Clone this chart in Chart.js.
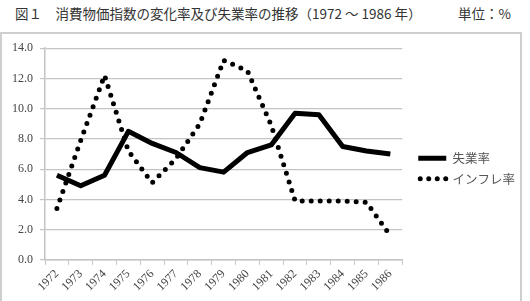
<!DOCTYPE html>
<html>
<head>
<meta charset="utf-8">
<script src="https://cdn.jsdelivr.net/npm/chart.js@4.4.1/dist/chart.umd.min.js"></script>
<style>
  body { margin: 0; background: #fff; width: 530px; height: 301px; overflow: hidden; position: relative; }
  .title { position: absolute; top: 3px; font-family: "Noto Sans CJK JP", "Noto Sans", sans-serif; font-size: 13.5px; color: #333; white-space: nowrap; }
  #frame { position: absolute; left: 0; top: 32px; width: 518px; height: 280px; border: 2px solid #cfcfcf; }
  #wrap { position: absolute; left: 0; top: 34px; width: 525px; height: 267px; }
</style>
</head>
<body>
<div class="title" style="left:15px">図１　消費物価指数の変化率及び失業率の推移（1972 ～ 1986 年）</div>
<div class="title" style="left:458px">単位：%</div>
<div id="frame"></div>
<div id="wrap"><canvas id="chart"></canvas></div>
<script>
// years on the x axis
const years = ['1972', '1973', '1974', '1975', '1976', '1977', '1978', '1979',
               '1980', '1981', '1982', '1983', '1984', '1985', '1986'];

// unemployment rate (%)
const unemployment = [5.6, 4.9, 5.6, 8.5, 7.7, 7.1, 6.1, 5.8, 7.1, 7.6, 9.7, 9.6, 7.5, 7.2, 7.0];

// inflation rate (%)
const inflation = [3.4, 7.9, 12.2, 7.2, 5.1, 6.7, 9.0, 13.2, 12.5, 8.9, 3.9, 3.9, 3.9, 3.8, 1.6];

// y axis ticks
const yMin = 0;
const yMax = 14;
const yStep = 2;

const gridColor = '#c4c4c4';
const tickFont = { family: '"Liberation Serif", "DejaVu Serif", serif', size: 12 };

// legend samples: the point style 'line' strokes one straight segment,
// so copy each dataset's stroke settings onto its legend item
function legendLabels(chart) {
    const items = Chart.defaults.plugins.legend.labels.generateLabels(chart);
    items.forEach(item => {
        const ds = chart.data.datasets[item.datasetIndex];
        item.lineWidth = ds.borderWidth;
        item.lineCap = ds.borderCapStyle;
        item.strokeStyle = ds.borderColor;
        item.fillStyle = ds.borderColor;
        item.lineDash = ds.borderDash ? [0, 8.5] : [];
        item.lineDashOffset = -2;
        item.fontColor = '#555';
    });
    return items;
}

new Chart(document.getElementById('chart'), {
    type: 'line',
    data: {
        labels: years,
        datasets: [
            {
                label: '失業率',
                data: unemployment,
                borderColor: '#000',
                backgroundColor: '#000',
                borderWidth: 5,
                borderJoinStyle: 'round',
                borderCapStyle: 'butt',
                pointRadius: 0,
                tension: 0
            },
            {
                label: 'インフレ率',
                data: inflation,
                borderColor: '#000',
                backgroundColor: '#000',
                borderWidth: 5,
                borderDash: [0, 9],
                borderCapStyle: 'round',
                pointRadius: 0,
                tension: 0
            }
        ]
    },
    options: {
        responsive: true,
        maintainAspectRatio: false,
        animation: false,
        layout: { padding: { left: 5, top: 7, right: 0, bottom: 5 } },
        plugins: {
            tooltip: { enabled: false },
            legend: {
                position: 'right',
                maxWidth: 200,
                labels: {
                    usePointStyle: true,
                    pointStyle: 'line',
                    pointStyleWidth: 28,
                    boxHeight: 12,
                    padding: 8,
                    color: '#555',
                    font: { family: '"Noto Sans CJK JP", sans-serif', size: 12.5 },
                    generateLabels: legendLabels
                }
            }
        },
        scales: {
            x: {
                offset: true,
                grid: { offset: true, drawOnChartArea: false, drawTicks: true, tickLength: 5, color: gridColor },
                border: { color: gridColor, width: 1.5 },
                ticks: { minRotation: 45, maxRotation: 45, padding: 2, color: '#444', font: tickFont, autoSkip: false }
            },
            y: {
                min: yMin,
                max: yMax,
                grid: { color: gridColor, lineWidth: 1.2, tickLength: 5 },
                border: { color: gridColor, width: 1.5 },
                ticks: {
                    stepSize: yStep,
                    padding: 7,
                    color: '#444',
                    font: tickFont,
                    callback: v => v.toFixed(1)
                }
            },
            // empty right axis: only keeps a gap between the plot and the legend
            gap: {
                position: 'right',
                display: true,
                grid: { display: false },
                border: { display: false },
                ticks: { display: false },
                afterFit: scale => { scale.width = 8; }
            }
        }
    }
});
</script>
</body>
</html>
